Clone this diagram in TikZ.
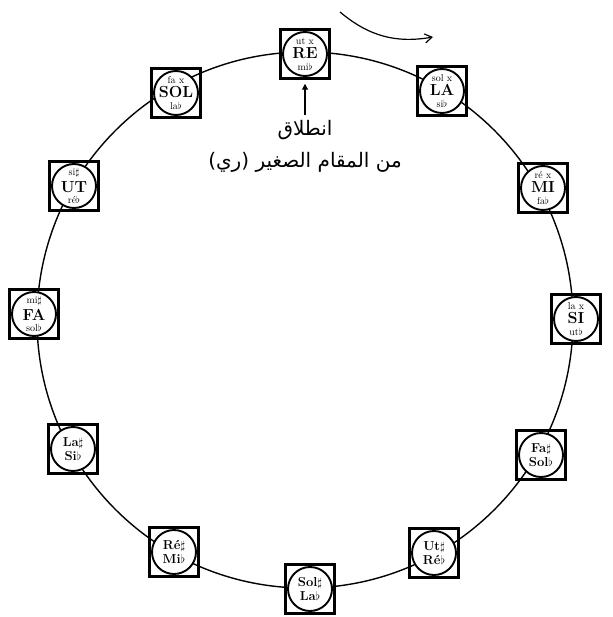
\documentclass[tikz,border=0pt]{standalone}
\usepackage{fontspec}
\newfontfamily\arabicfont[Script=Arabic]{DejaVu Sans}
\TeXXeTstate=1
\usetikzlibrary{arrows.meta}

\newcommand{\bigtone}[1]{{\fontsize{16}{16}\selectfont\bfseries #1}}
\newcommand{\pairtone}[1]{{\fontsize{13}{13}\selectfont\bfseries #1}}

\tikzset{
  notebox/.style={draw, line width=2.5pt, minimum size=49pt, inner sep=0pt},
  notering/.style={draw, circle, fill=white, line width=1.9pt, minimum size=44pt,
    inner sep=-10pt, align=center, font=\fontsize{10}{11.5}\selectfont},
  pairring/.style={notering, font=\fontsize{13}{14}\selectfont},
  arabtext/.style={font=\arabicfont\fontsize{20}{20}\selectfont, inner sep=1pt},
}

\begin{document}
\begin{tikzpicture}[x=1pt, y=-1pt]
  \useasboundingbox (0,0) rectangle (612,617);

  % 大圆
  \draw[line width=1.4pt] (305,320) circle (268);

  % 方框
  \node[notebox] (re)   at (305,54)  {};
  \node[notebox] (la)   at (442,91)  {};
  \node[notebox] (mi)   at (543,188) {};
  \node[notebox] (si)   at (576,319) {};
  \node[notebox] (fas)  at (541,455) {};
  \node[notebox] (uts)  at (434,553) {};
  \node[notebox] (sols) at (310,589) {};
  \node[notebox] (res)  at (174,552) {};
  \node[notebox] (las)  at (73,449)  {};
  \node[notebox] (fa)   at (34,314)  {};
  \node[notebox] (ut)   at (74,186)  {};
  \node[notebox] (sol)  at (176,93)  {};

  % 圆圈与音名
  \node[notering] (re-r)   at (re)   {ut x\\[3pt]\bigtone{RE}\\[0pt]mi$\flat$};
  \node[notering] (la-r)   at (la)   {sol x\\[3pt]\bigtone{LA}\\[0pt]si$\flat$};
  \node[notering] (mi-r)   at (mi)   {ré x\\[3pt]\bigtone{MI}\\[0pt]fa$\flat$};
  \node[notering] (si-r)   at (si)   {la x\\[3pt]\bigtone{SI}\\[0pt]ut$\flat$};
  \node[pairring] (fas-r)  at (fas)  {\pairtone{Fa$\sharp$}\\\pairtone{Sol$\flat$}};
  \node[pairring] (uts-r)  at (uts)  {\pairtone{Ut$\sharp$}\\\pairtone{Ré$\flat$}};
  \node[pairring] (sols-r) at (sols) {\pairtone{Sol$\sharp$}\\\pairtone{La$\flat$}};
  \node[pairring] (res-r)  at (res)  {\pairtone{Ré$\sharp$}\\\pairtone{Mi$\flat$}};
  \node[pairring] (las-r)  at (las)  {\pairtone{La$\sharp$}\\\pairtone{Si$\flat$}};
  \node[notering] (fa-r)   at (fa)   {mi$\sharp$\\[3pt]\bigtone{FA}\\[0pt]sol$\flat$};
  \node[notering] (ut-r)   at (ut)   {si$\sharp$\\[3pt]\bigtone{UT}\\[0pt]ré$\flat$};
  \node[notering] (sol-r)  at (sol)  {fa x\\[3pt]\bigtone{SOL}\\[0pt]la$\flat$};

  % 起点说明
  \node[arabtext] (start)  at (305,130) {\beginR انطلاق\endR};
  \node[arabtext] (start2) at (305,162) {\beginR من المقام الصغير (ري)\endR};
  \draw[line width=1.1pt, -{Triangle[length=6pt, width=6pt]}, shorten >=4pt,
    shorten <=4pt] (start.north) -- (re.south);

  % 方向箭头
  \coordinate (turn-a) at (340,12);
  \coordinate (turn-b) at (433,37);
  \draw[line width=1.2pt, -{Straight Barb[length=7pt, width=9pt]}]
    (turn-a) to[bend right=25] (turn-b);
\end{tikzpicture}
\end{document}
